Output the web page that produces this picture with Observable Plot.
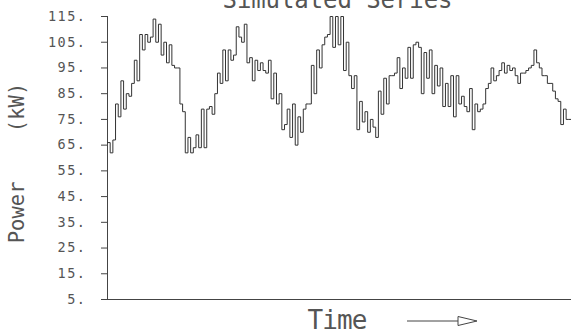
<!DOCTYPE html>
<html><head><meta charset="utf-8">
<script src="https://cdn.jsdelivr.net/npm/d3@7"></script>
<script src="https://cdn.jsdelivr.net/npm/@observablehq/plot@0.6"></script>
<style>
body{margin:0;background:#fff;}
#chart svg{display:block;overflow:hidden;}
</style></head><body><div id="chart"></div>
<script>
const power = [
  66,62,67,81,76,90,79,85,84,89,
  98,90,108,102,108,105,107,114,105,112,
  100,105,97,104,96,95,95,81,78,62,
  68,62,64,69,64,79,64,79,80,77,
  85,93,89,102,90,102,98,100,111,107,
  105,112,97,99,90,98,94,97,94,93,
  98,83,93,81,85,71,73,79,68,81,
  65,76,70,79,81,81,96,85,102,95,
  104,107,108,115,103,115,104,115,94,105,
  92,87,92,71,82,74,78,70,75,72,
  68,86,77,91,81,92,92,93,99,87,
  95,91,103,91,104,105,103,85,101,91,
  102,85,96,88,95,80,89,80,92,76,
  92,81,84,80,78,87,71,81,78,79,
  81,87,89,95,90,92,94,97,93,96,
  94,95,92,89,93,93,94,95,96,102,
  97,95,92,92,89,89,86,83,82,73,
  79,75,75
];
const yTicks = [5,15,25,35,45,55,65,75,85,95,105,115];
const titleText = "Simulated Series";
const yLabelText = "Power    (kW)";
const xLabelText = "Time";

const data = power.map((v, i) => ({t: i, v}));
data.push({t: power.length, v: power[power.length - 1]});

const ink = "#444";
const textInk = "#555";
const font = "DejaVu Sans Mono";

const plot = Plot.plot({
  width: 571, height: 333,
  marginLeft: 107, marginRight: 0, marginTop: 16, marginBottom: 34,
  style: {fontFamily: font, background: "#fff", color: ink},
  x: {domain: [0, power.length], axis: null},
  y: {domain: [5, 115], axis: null},
  marks: [
    Plot.axisY({ticks: yTicks, tickSize: 6, text: null, label: null, stroke: ink}),
    Plot.text(yTicks, {y: d => d, text: d => d + ".", frameAnchor: "left", textAnchor: "end",
      dx: -21, fontSize: 13.5, fill: textInk}),
    Plot.ruleX([0], {stroke: ink, strokeWidth: 1}),
    Plot.ruleY([5], {stroke: ink, strokeWidth: 1}),
    Plot.line(data, {x: "t", y: "v", curve: "step-after", stroke: "#333", strokeWidth: 1}),
    Plot.text([titleText], {frameAnchor: "top", dx: -2, dy: -9, lineAnchor: "bottom",
      fontSize: 24, fill: textInk}),
    Plot.text([yLabelText], {frameAnchor: "left", textAnchor: "middle", dx: -90, dy: 5, rotate: -90,
      fontSize: 20.5, fill: textInk}),
    Plot.text([xLabelText], {frameAnchor: "bottom", dx: -2, dy: 21, lineAnchor: "middle",
      fontSize: 26, fill: textInk})
  ]
});

const svg = d3.select(plot);
svg.selectAll("text").each(function() {
  const sel = d3.select(this);
  const t = sel.text();
  if (/^\d+\.$/.test(t)) sel.style("letter-spacing", "1.5px");
  if (t === titleText) sel.attr("textLength", 230).attr("lengthAdjust", "spacing");
  if (t === xLabelText) sel.attr("textLength", 60).attr("lengthAdjust", "spacing");
});
// arrow after "Time"
const arrowG = svg.append("g").attr("fill", "none").attr("stroke", ink).attr("stroke-width", 1);
arrowG.append("line").attr("x1", 407).attr("x2", 458).attr("y1", 321).attr("y2", 321);
arrowG.append("path").attr("d", "M458,316.5L477,321L458,325.5Z");

document.getElementById("chart").appendChild(plot);
</script></body></html>
